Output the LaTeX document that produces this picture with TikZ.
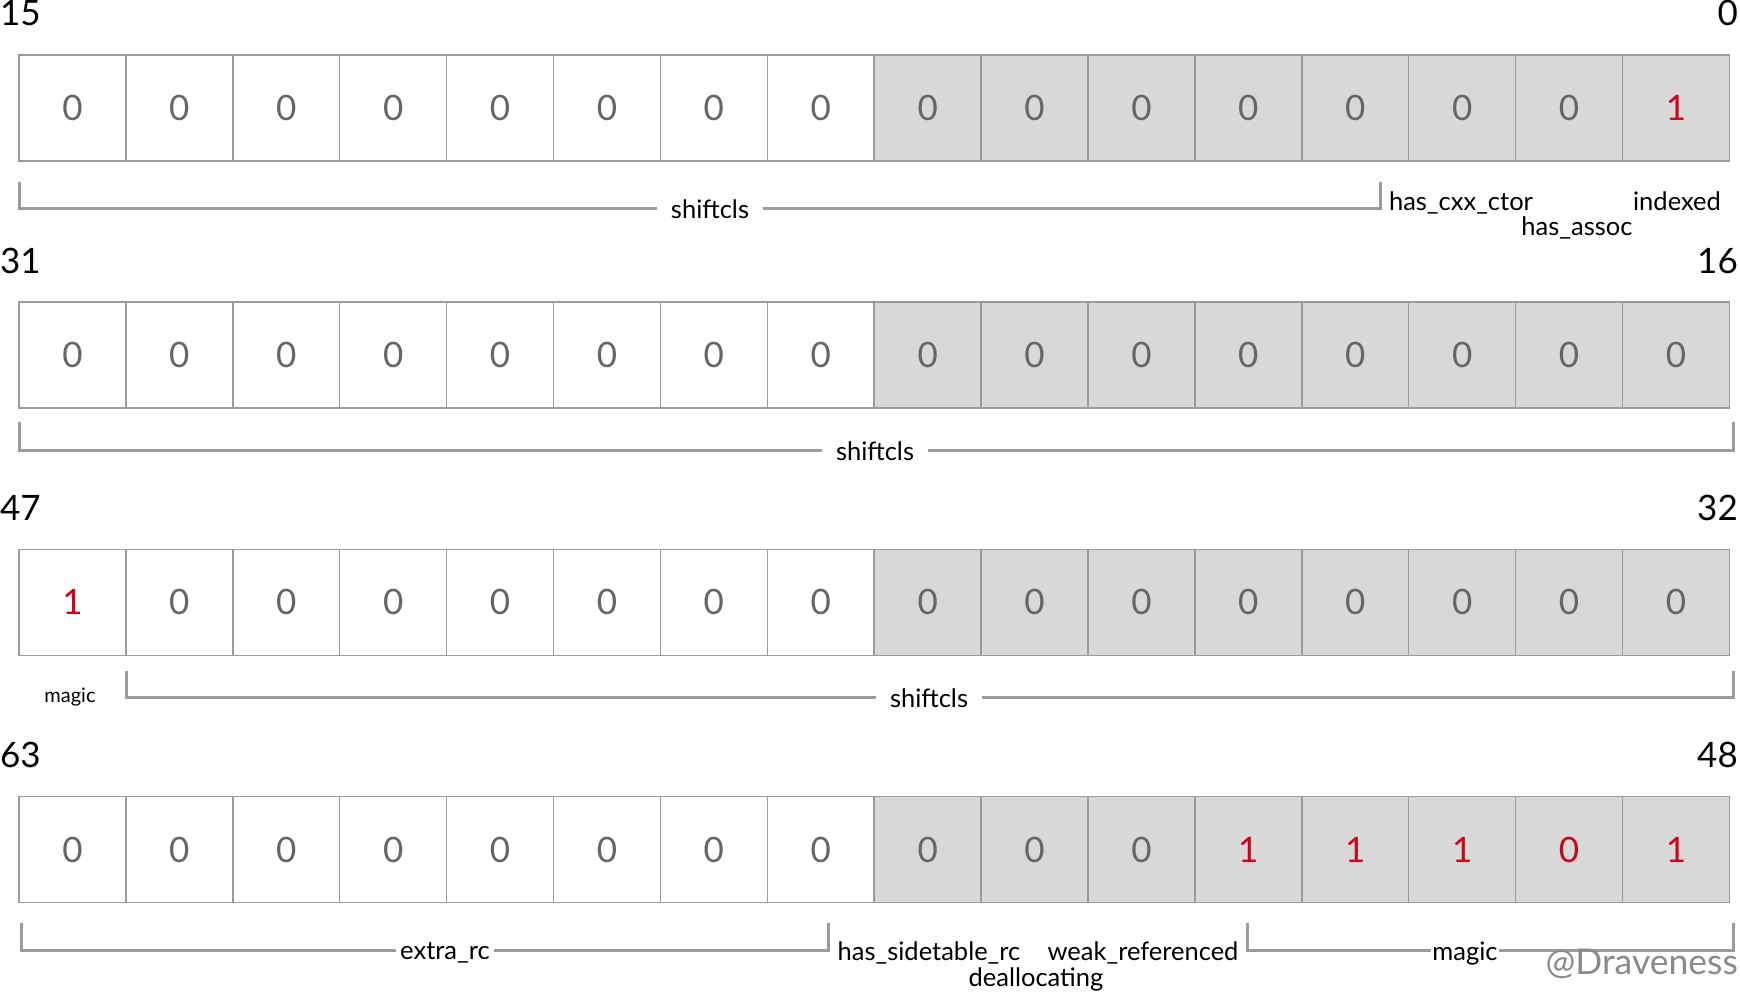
\documentclass[tikz,border=0pt]{standalone}
\usepackage{fontspec}
\setmainfont{Lato}
\usetikzlibrary{positioning}

\definecolor{framegray}{HTML}{9B9B9B}
\definecolor{cellgray}{HTML}{D8D8D8}
\definecolor{digitgray}{HTML}{666666}
\definecolor{bitred}{HTML}{D0021B}
\definecolor{markgray}{HTML}{8A8A8A}

\tikzset{
  cell/.style = {draw=framegray, line width=1.5pt, minimum width=106.9pt,
    minimum height=106pt, inner sep=0pt, font=\fontsize{35}{35}\selectfont},
  bitoff/.style = {text=digitgray},
  biton/.style = {text=bitred},
  num/.style = {inner sep=0pt, font=\fontsize{35}{35}\selectfont},
  fieldline/.style = {draw=framegray, line width=3pt},
  field/.style = {anchor=base, inner sep=0pt, font=\fontsize{25.5}{25.5}\selectfont},
  gap/.style = {fill=white, inner xsep=#1, inner ysep=2pt},
}

\begin{document}
\begin{tikzpicture}[x=1pt, y=-1pt]
  \useasboundingbox (0,0) rectangle (1740,992);

  % the four rows of bits
  \foreach \bits [count=\r] in {
    {0/bitoff,0/bitoff,0/bitoff,0/bitoff,0/bitoff,0/bitoff,0/bitoff,0/bitoff,
     0/bitoff,0/bitoff,0/bitoff,0/bitoff,0/bitoff,0/bitoff,0/bitoff,1/biton},
    {0/bitoff,0/bitoff,0/bitoff,0/bitoff,0/bitoff,0/bitoff,0/bitoff,0/bitoff,
     0/bitoff,0/bitoff,0/bitoff,0/bitoff,0/bitoff,0/bitoff,0/bitoff,0/bitoff},
    {1/biton,0/bitoff,0/bitoff,0/bitoff,0/bitoff,0/bitoff,0/bitoff,0/bitoff,
     0/bitoff,0/bitoff,0/bitoff,0/bitoff,0/bitoff,0/bitoff,0/bitoff,0/bitoff},
    {0/bitoff,0/bitoff,0/bitoff,0/bitoff,0/bitoff,0/bitoff,0/bitoff,0/bitoff,
     0/bitoff,0/bitoff,0/bitoff,1/biton,1/biton,1/biton,0/biton,1/biton}}
  {
    \foreach \b/\tone [count=\c] in \bits {
      \ifnum\c>8 \def\shade{cellgray}\else\def\shade{white}\fi
      \node[cell, fill=\shade, \tone] (r\r c\c)
        at ({19+(\c-0.5)*106.9}, {108+(\r-1)*247.2}) {\b};
    }
  }

  % bit numbers
  \foreach \hi/\lo [count=\r] in {15/0, 31/16, 47/32, 63/48} {
    \node[num, anchor=base west] (hi\r) at (0, {26+(\r-1)*247.2}) {\hi};
    \node[num, anchor=base east] (lo\r) at (1738, {26+(\r-1)*247.2}) {\lo};
  }

  % brackets under the rows
  \draw[fieldline] (19,182) |- (1380,209) -- (1380,182);
  \draw[fieldline] (19,422) |- (1733,450) -- (1733,422);
  \draw[fieldline] (126,671) |- (1733,697) -- (1733,671);
  \draw[fieldline] (21,923) |- (828,950) -- (828,923);
  \draw[fieldline] (1247,923) |- (1733,950) -- (1733,923);

  % field names
  \node[field, gap=14pt] (cls1) at (710,219) {shiftcls};
  \node[field] (cxx) at (1461,211) {has\_cxx\_ctor};
  \node[field] (idx) at (1677,211) {indexed};
  \node[field] (assoc) at (1577,236) {has\_assoc};
  \node[field, gap=14pt] (cls2) at (875,460) {shiftcls};
  \node[field, font=\fontsize{20}{20}\selectfont] (mag1) at (70,702) {magic};
  \node[field, gap=14pt] (cls3) at (929,707) {shiftcls};
  \node[field, gap=4pt] (erc) at (445,959) {extra\_rc};
  \node[field] (side) at (929,960) {has\_sidetable\_rc};
  \node[field] (weak) at (1143,960) {weak\_referenced};
  \node[field] (dealloc) at (1036,986) {deallocating};
  \node[field, gap=1pt] (mag2) at (1465,960) {magic};
  \node[anchor=base east, inner sep=0pt, text=markgray,
    font=\fontsize{35.5}{35.5}\selectfont] (sig) at (1738,974) {@Draveness};
\end{tikzpicture}
\end{document}
